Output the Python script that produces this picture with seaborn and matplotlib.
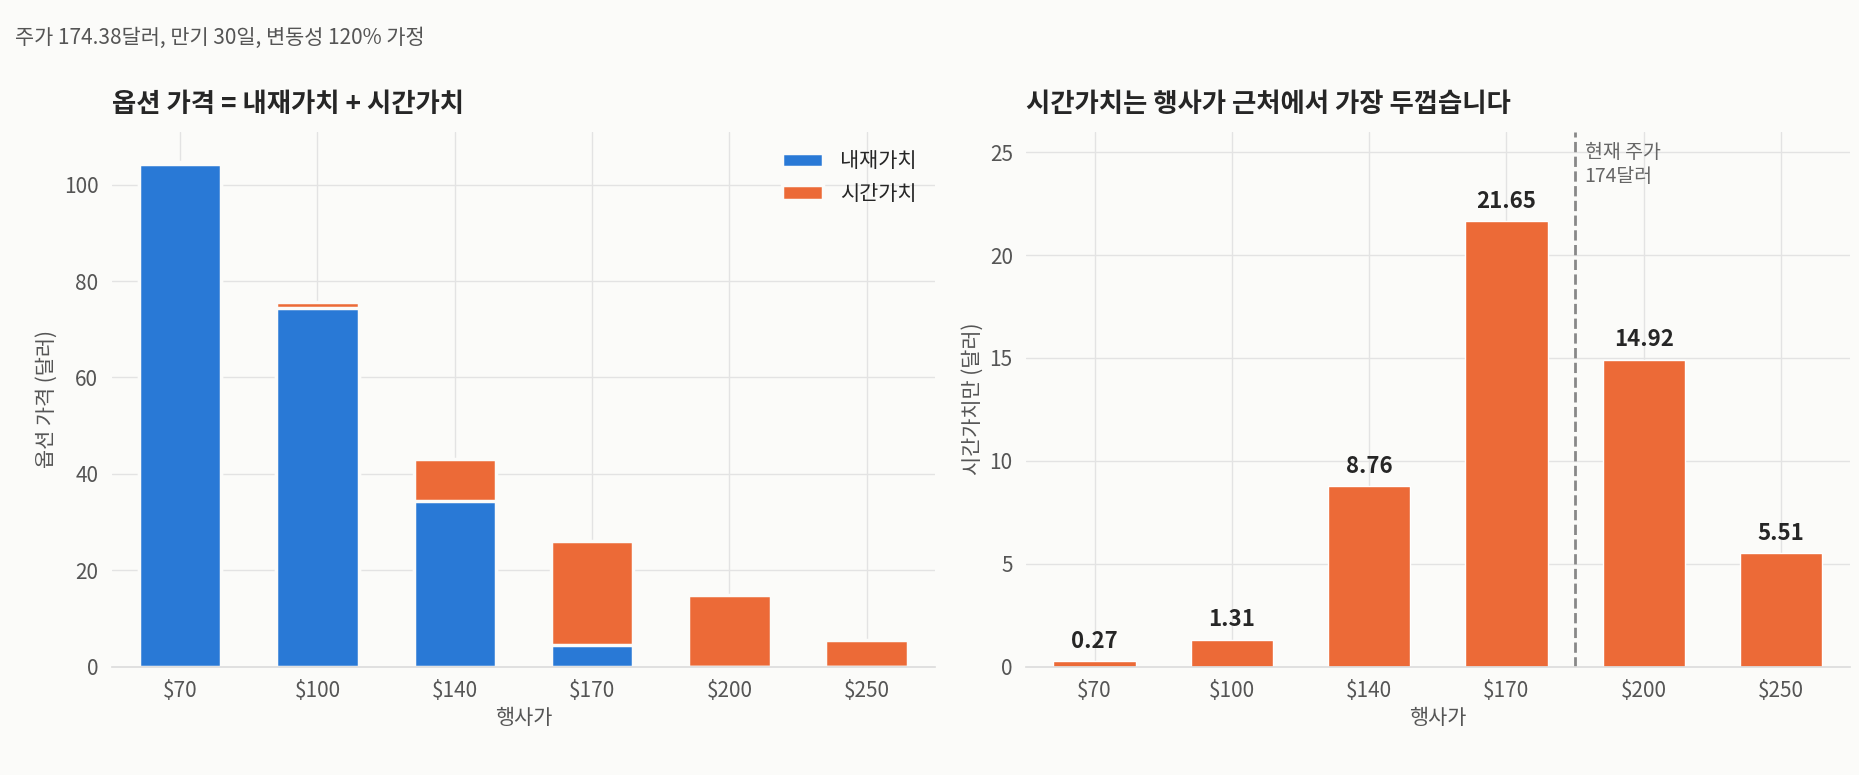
import matplotlib
matplotlib.use("Agg")
import matplotlib.pyplot as plt
import seaborn as sns
import pandas as pd
import numpy as np

strikes = ["$70", "$100", "$140", "$170", "$200", "$250"]
intrinsic = [104.38, 74.38, 34.38, 4.38, 0.0, 0.0]
time_value = [0.27, 1.31, 8.76, 21.65, 14.92, 5.51]

sns.set_theme(style="whitegrid")
plt.rcParams['font.family'] = ['Noto Sans CJK KR', 'DejaVu Sans']
BG = "#FBFBF9"
BLUE = "#2979D6"
ORANGE = "#EC6A37"
plt.rcParams.update({"figure.facecolor": BG, "axes.facecolor": BG, "grid.color": "#E3E3E3",
                     "axes.edgecolor": "#DDDDDD"})

fig, (ax1, ax2) = plt.subplots(1, 2, figsize=(18.59, 7.75), dpi=100)
fig.subplots_adjust(left=0.06, right=0.995, top=0.83, bottom=0.14, wspace=0.11)

df = pd.DataFrame({"strike": strikes, "intrinsic": intrinsic, "time": time_value})
df["total"] = df["intrinsic"] + df["time"]

sns.barplot(data=df, x="strike", y="total", color=ORANGE, ax=ax1, width=0.6,
            saturation=1, edgecolor=BG, linewidth=2.5, label="시간가치")
sns.barplot(data=df, x="strike", y="intrinsic", color=BLUE, ax=ax1, width=0.6,
            saturation=1, edgecolor=BG, linewidth=2.5, label="내재가치")
h, l = ax1.get_legend_handles_labels()
ax1.legend(h[::-1], l[::-1], frameon=False, fontsize=15, loc="upper right")
ax1.set_ylim(0, 111)
ax1.set_yticks([0, 20, 40, 60, 80, 100])
ax1.set_xlabel("행사가", fontsize=15, color="#555555")
ax1.set_ylabel("옵션 가격 (달러)", fontsize=15, color="#555555")
ax1.set_title("옵션 가격 = 내재가치 + 시간가치", loc="left", fontsize=19, fontweight="bold", pad=14)

sns.barplot(data=df, x="strike", y="time", color=ORANGE, ax=ax2, width=0.6, saturation=1)
for i, v in enumerate(time_value):
    ax2.text(i, v + 0.4, f"{v:.2f}", ha="center", va="bottom", fontsize=16, fontweight="bold")
ax2.axvline(3.5, color="#888888", linestyle="--", linewidth=2)
ax2.text(3.57, 25.5, "현재 주가\n174달러", va="top", ha="left", fontsize=14, color="#666666")
ax2.set_ylim(0, 26)
ax2.set_yticks([0, 5, 10, 15, 20, 25])
ax2.set_xlabel("행사가", fontsize=15, color="#555555")
ax2.set_ylabel("시간가치만 (달러)", fontsize=15, color="#555555")
ax2.set_title("시간가치는 행사가 근처에서 가장 두껍습니다", loc="left", fontsize=19, fontweight="bold", pad=14)

for ax in (ax1, ax2):
    ax.tick_params(labelsize=15, colors="#555555")
    for s in ["top", "right", "left"]:
        ax.spines[s].set_visible(False)
    ax.spines["bottom"].set_color("#DDDDDD")
    ax.grid(True, axis="both")
    ax.set_axisbelow(True)

fig.text(0.008, 0.965, "주가 174.38달러, 만기 30일, 변동성 120% 가정", fontsize=15, color="#555555", va="top")
fig.savefig("out.png", facecolor=BG)
